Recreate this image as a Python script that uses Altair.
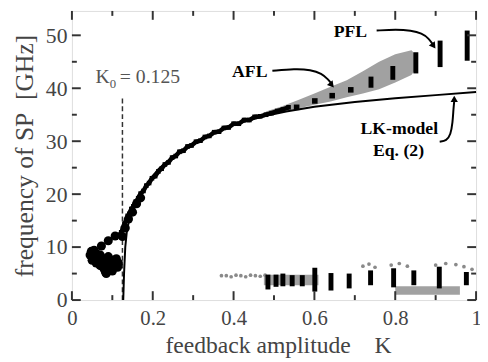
import altair as alt
import pandas as pd

# ---------------- data ----------------
# LK-model curve (Eq. 2)
lk_K = [0.127, 0.129, 0.132, 0.136, 0.140, 0.150, 0.163, 0.180, 0.195, 0.215, 0.236, 0.260,
        0.277, 0.300, 0.317, 0.358, 0.400, 0.440, 0.480, 0.530, 0.600, 0.700, 0.800, 0.900, 1.000]
lk_f = [0.0, 5.0, 10.0, 13.0, 14.5, 16.8, 19.0, 21.3, 23.0, 24.8, 26.2, 27.6,
        28.3, 29.4, 30.1, 31.8, 33.1, 34.0, 34.8, 35.6, 36.5, 37.4, 38.1, 38.7, 39.3]

# main experimental branch (black)
main_K = [0.118, 0.122, 0.126, 0.130, 0.134, 0.138, 0.142, 0.147, 0.152, 0.158, 0.164, 0.170,
          0.177, 0.184, 0.191, 0.198, 0.206, 0.214, 0.222, 0.230, 0.239, 0.248, 0.257, 0.266,
          0.276, 0.286, 0.296, 0.307, 0.318, 0.329, 0.340, 0.352, 0.364, 0.376, 0.388, 0.400,
          0.413, 0.426, 0.439, 0.452, 0.466, 0.480, 0.494, 0.508, 0.522, 0.536]
main_f = [12.3, 12.8, 13.5, 14.4, 15.0, 15.9, 16.3, 17.2, 17.7, 18.6, 19.2, 20.1,
          20.6, 21.6, 22.1, 23.0, 23.4, 24.3, 24.8, 25.6, 26.0, 26.9, 27.2, 28.0,
          28.2, 29.0, 29.2, 29.9, 30.1, 30.8, 31.0, 31.7, 31.8, 32.5, 32.6, 33.3,
          33.3, 34.0, 34.0, 34.6, 34.7, 35.0, 35.3, 35.7, 36.0, 36.4]

# low-K cluster and thick start of the branch (black blobs)
blob_K = [0.045, 0.048, 0.050, 0.050, 0.055, 0.055, 0.060, 0.060, 0.063, 0.065, 0.068, 0.070,
          0.070, 0.073, 0.075, 0.078, 0.080, 0.080, 0.083, 0.085, 0.085, 0.088, 0.090, 0.090,
          0.093, 0.095, 0.098, 0.100, 0.100, 0.103, 0.105, 0.108, 0.110, 0.113, 0.115,
          0.073, 0.090, 0.107, 0.125, 0.132, 0.140, 0.150, 0.160, 0.170]
blob_f = [8.5, 9.2, 7.5, 9.0, 8.0, 9.4, 8.8, 7.0, 8.2, 7.8, 6.9, 6.5,
          8.5, 7.4, 7.2, 6.2, 5.8, 7.8, 5.3, 6.5, 5.0, 6.9, 7.0, 8.2,
          6.2, 6.0, 7.2, 7.5, 5.5, 6.3, 6.8, 7.6, 7.8, 6.2, 7.0,
          10.2, 11.2, 12.1, 12.0, 13.6, 15.3, 16.6, 18.2, 19.3]

# AFL dots (black)
afl_K = [0.556, 0.601, 0.644, 0.690]
afl_f = [36.4, 37.6, 38.6, 39.7]

# vertical black bars: position, low, high (AFL / PFL and low-frequency branch)
bar_K = [0.740, 0.794, 0.851, 0.911, 0.978,
         0.485, 0.505, 0.522, 0.545, 0.570, 0.601, 0.641, 0.686, 0.739, 0.796, 0.846, 0.909, 0.976]
bar_lo = [40.1, 41.6, 42.8, 44.0, 45.2,
          2.0, 2.5, 2.6, 2.6, 2.6, 1.6, 1.8, 2.2, 2.8, 2.4, 2.8, 2.2, 2.8]
bar_hi = [42.2, 44.2, 46.8, 49.0, 50.9,
          4.8, 4.8, 5.0, 4.7, 4.7, 6.1, 5.1, 5.0, 5.6, 6.0, 5.6, 6.3, 5.3]

# gray bands
band_id = ["afl"] * 11 + ["low1"] * 2 + ["low2"] * 2
band_K = [0.48, 0.52, 0.56, 0.60, 0.64, 0.68, 0.72, 0.76, 0.80, 0.84, 0.855,
          0.475, 0.610,
          0.800, 0.960]
band_lo = [34.8, 35.5, 36.2, 36.9, 37.5, 38.3, 39.0, 39.8, 41.1, 42.5, 44.0,
           2.8, 2.8,
           1.0, 1.0]
band_hi = [35.6, 36.6, 37.8, 39.0, 40.3, 41.5, 43.2, 45.0, 46.4, 47.2, 46.0,
           4.8, 4.8,
           2.6, 2.6]

# gray dots
gdot_K = [0.370, 0.382, 0.394, 0.406, 0.418, 0.430, 0.442, 0.454, 0.466, 0.478,
          0.720, 0.735, 0.750, 0.790, 0.810, 0.830, 0.900, 0.925, 0.950, 0.970, 0.990]
gdot_f = [4.6, 4.6, 4.4, 4.7, 4.6, 4.4, 4.7, 4.6, 4.5, 4.7,
          6.4, 6.8, 6.2, 6.6, 6.9, 6.4, 6.6, 6.9, 6.7, 6.3, 5.8]

# K0 marker
k0_K = [0.125]
k0_f0 = [0.0]
k0_f1 = [38.5]

# annotation arrows
arr_id = ["afl"] * 6 + ["pfl"] * 6 + ["lk"] * 6
arr_K = [0.496, 0.552, 0.591, 0.618, 0.635, 0.642,
         0.754, 0.803, 0.839, 0.866, 0.883, 0.893,
         0.910, 0.927, 0.937, 0.942, 0.944, 0.946]
arr_f = [43.3, 43.7, 43.5, 42.8, 41.6, 40.9,
         50.9, 51.1, 50.9, 50.4, 49.4, 48.3,
         29.9, 30.1, 31.2, 33.5, 36.1, 37.6]
head_K = [0.643, 0.895, 0.946]
head_f = [40.6, 48.0, 38.0]
head_ang = [320, 325, 180]

# labels
lab_text = ["AFL", "PFL", "LK-model", "Eq. (2)"]
lab_K = [0.440, 0.689, 0.810, 0.808]
lab_f = [43.1, 50.7, 32.3, 28.1]

xticks_major = [0, 0.2, 0.4, 0.6, 0.8, 1.0]
xticks_minor = [0.1, 0.3, 0.5, 0.7, 0.9]
yticks_major = [0, 10, 20, 30, 40, 50]
yticks_minor = [5, 15, 25, 35, 45]

# ---------------- chart ----------------
W, H = 411, 294
FONT = "Liberation Serif"
TXT = "#444"
xs = alt.Scale(domain=[0, 1], nice=False, zero=False)
ys = alt.Scale(domain=[0, 54.6], nice=False, zero=False)
xaxis = alt.Axis(values=xticks_major, format="~g", title="feedback amplitude\u00a0\u00a0\u00a0\u00a0K",
                 ticks=False, domain=False, grid=False, labelPadding=8, labelFont=FONT,
                 labelFontSize=21, labelColor=TXT, labelOverlap=False, labelFlush=False,
                 titleFont=FONT, titleFontSize=24, titleFontWeight="normal", titleColor=TXT,
                 titleBaseline="alphabetic", titleY=53, titleX=W / 2 + 4)
yaxis = alt.Axis(values=yticks_major, format="d", title="frequency of SP\u00a0\u00a0[GHz]",
                 ticks=False, domain=False, grid=False, labelPadding=5, labelFont=FONT,
                 labelFontSize=22, labelColor=TXT, labelOverlap=False, labelFlush=False,
                 titleFont=FONT, titleFontSize=26, titleFontWeight="normal", titleColor=TXT,
                 titlePadding=8)


def X(f):
    return alt.X(f"{f}:Q", scale=xs, axis=xaxis)


def Y(f):
    return alt.Y(f"{f}:Q", scale=ys, axis=yaxis)


bands = pd.DataFrame({"id": band_id, "K": band_K, "lo": band_lo, "hi": band_hi})
gd = pd.DataFrame({"K": gdot_K, "f": gdot_f})
lk = pd.DataFrame({"K": lk_K, "f": lk_f})
main = pd.DataFrame({"K": main_K, "f": main_f})
blob = pd.DataFrame({"K": blob_K, "f": blob_f})
afl = pd.DataFrame({"K": afl_K, "f": afl_f})
bars = pd.DataFrame({"K": bar_K, "lo": bar_lo, "hi": bar_hi})
k0 = pd.DataFrame({"K": k0_K, "lo": k0_f0, "hi": k0_f1})
arr = pd.DataFrame({"id": arr_id, "K": arr_K, "f": arr_f, "o": list(range(len(arr_K)))})
heads = pd.DataFrame({"K": head_K, "f": head_f, "a": head_ang})
labs = pd.DataFrame({"K": lab_K, "f": lab_f, "t": lab_text})

l_band = alt.Chart(bands).mark_area(color="#9c9c9c", opacity=0.95).encode(
    x=X("K"), y=Y("lo"), y2="hi", detail="id:N")
l_gd = alt.Chart(gd).mark_circle(color="#8a8a8a", size=14, opacity=1).encode(x=X("K"), y=Y("f"))
l_k0 = alt.Chart(k0).mark_rule(color="#333", strokeWidth=1.5, strokeDash=[5, 3]).encode(
    x=X("K"), y=Y("lo"), y2="hi")
l_main_line = alt.Chart(main).mark_line(color="black", strokeWidth=4.5).encode(x=X("K"), y=Y("f"))
l_main_pts = alt.Chart(main).mark_square(color="black", size=22, opacity=1).encode(x=X("K"), y=Y("f"))
l_blob = alt.Chart(blob).mark_circle(color="black", size=85, opacity=1).encode(x=X("K"), y=Y("f"))
l_afl = alt.Chart(afl).mark_square(color="black", size=32, opacity=1).encode(x=X("K"), y=Y("f"))
l_bars = alt.Chart(bars).mark_rule(color="black", strokeWidth=5, strokeCap="butt").encode(
    x=X("K"), y=Y("lo"), y2="hi")
l_lk = alt.Chart(lk).mark_line(color="black", strokeWidth=2).encode(x=X("K"), y=Y("f"))

# inward ticks on all four sides
TK = "#333"


def xt(vals, y0, y1):
    return alt.Chart(pd.DataFrame({"K": vals})).mark_rule(color=TK, strokeWidth=2).encode(
        x=X("K"), y=alt.value(y0), y2=alt.value(y1))


def yt(vals, x0, x1):
    return alt.Chart(pd.DataFrame({"f": vals})).mark_rule(color=TK, strokeWidth=2).encode(
        y=Y("f"), x=alt.value(x0), x2=alt.value(x1))


ticks = [xt(xticks_major, H, H - 9), xt(xticks_minor, H, H - 5),
         xt(xticks_major, 0, 9), xt(xticks_minor, 0, 5),
         yt(yticks_major, 0, 9), yt(yticks_minor, 0, 5),
         yt(yticks_major, W, W - 9), yt(yticks_minor, W, W - 5)]

l_labs = alt.Chart(labs).mark_text(font=FONT, fontSize=18, fontWeight="bold", color="black",
                                   align="center", baseline="middle").encode(
    x=X("K"), y=Y("f"), text="t:N")
l_kk = alt.Chart(pd.DataFrame({"K": [0.0584], "f": [42.1], "t": ["K"]})).mark_text(
    font=FONT, fontSize=20, color="#555", align="left", baseline="middle").encode(
    x=X("K"), y=Y("f"), text="t:N")
l_k0sub = alt.Chart(pd.DataFrame({"K": [0.0935], "f": [40.8], "t": ["0"]})).mark_text(
    font=FONT, fontSize=13, color="#555", align="left", baseline="middle").encode(
    x=X("K"), y=Y("f"), text="t:N")
l_k0val = alt.Chart(pd.DataFrame({"K": [0.1185], "f": [42.1], "t": ["= 0.125"]})).mark_text(
    font=FONT, fontSize=20, color="#555", align="left", baseline="middle").encode(
    x=X("K"), y=Y("f"), text="t:N")

l_arr = alt.Chart(arr).mark_line(color="black", strokeWidth=2, interpolate="basis").encode(
    x=X("K"), y=Y("f"), detail="id:N", order="o:Q")
l_heads = alt.Chart(heads).mark_point(shape="triangle-down", filled=True, color="black",
                                      size=55, opacity=1).encode(
    x=X("K"), y=Y("f"), angle=alt.Angle("a:Q", scale=None))

chart = alt.layer(
    l_band, l_gd, l_k0, l_lk, l_main_line, l_main_pts, l_blob, l_afl, l_bars,
    *ticks, l_labs, l_kk, l_k0sub, l_k0val, l_arr, l_heads
).properties(
    width=W, height=H,
    autosize=alt.AutoSizeParams(type="none"),
    padding={"left": 65, "top": 0, "right": 4, "bottom": 60},
).configure_view(stroke="#333", strokeWidth=2).configure(background="white")

chart.save("out.html", embed_options={"renderer": "svg", "actions": False})
